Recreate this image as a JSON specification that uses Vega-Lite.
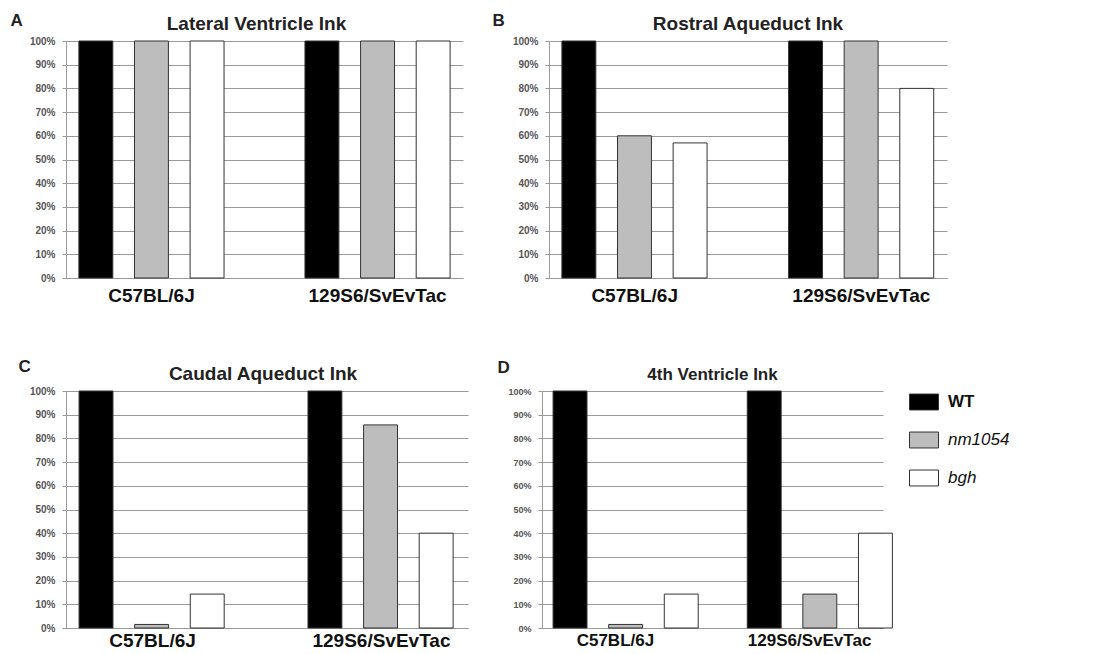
{
  "$schema": "https://vega.github.io/schema/vega-lite/v6.json",
  "background": "white",
  "padding": {"left": 10, "top": 11, "right": 0, "bottom": 0},
  "spacing": 52,
  "datasets": {
    "ink": [
      {"panel": "A", "strain": "C57BL/6J", "genotype": "WT", "pct": 100},
      {"panel": "A", "strain": "C57BL/6J", "genotype": "nm1054", "pct": 100},
      {"panel": "A", "strain": "C57BL/6J", "genotype": "bgh", "pct": 100},
      {"panel": "A", "strain": "129S6/SvEvTac", "genotype": "WT", "pct": 100},
      {"panel": "A", "strain": "129S6/SvEvTac", "genotype": "nm1054", "pct": 100},
      {"panel": "A", "strain": "129S6/SvEvTac", "genotype": "bgh", "pct": 100},
      {"panel": "B", "strain": "C57BL/6J", "genotype": "WT", "pct": 100},
      {"panel": "B", "strain": "C57BL/6J", "genotype": "nm1054", "pct": 60},
      {"panel": "B", "strain": "C57BL/6J", "genotype": "bgh", "pct": 57},
      {"panel": "B", "strain": "129S6/SvEvTac", "genotype": "WT", "pct": 100},
      {"panel": "B", "strain": "129S6/SvEvTac", "genotype": "nm1054", "pct": 100},
      {"panel": "B", "strain": "129S6/SvEvTac", "genotype": "bgh", "pct": 80},
      {"panel": "C", "strain": "C57BL/6J", "genotype": "WT", "pct": 100},
      {"panel": "C", "strain": "C57BL/6J", "genotype": "nm1054", "pct": 1.5},
      {"panel": "C", "strain": "C57BL/6J", "genotype": "bgh", "pct": 14.3},
      {"panel": "C", "strain": "129S6/SvEvTac", "genotype": "WT", "pct": 100},
      {"panel": "C", "strain": "129S6/SvEvTac", "genotype": "nm1054", "pct": 85.7},
      {"panel": "C", "strain": "129S6/SvEvTac", "genotype": "bgh", "pct": 40},
      {"panel": "D", "strain": "C57BL/6J", "genotype": "WT", "pct": 100},
      {"panel": "D", "strain": "C57BL/6J", "genotype": "nm1054", "pct": 1.5},
      {"panel": "D", "strain": "C57BL/6J", "genotype": "bgh", "pct": 14.3},
      {"panel": "D", "strain": "129S6/SvEvTac", "genotype": "WT", "pct": 100},
      {"panel": "D", "strain": "129S6/SvEvTac", "genotype": "nm1054", "pct": 14.3},
      {"panel": "D", "strain": "129S6/SvEvTac", "genotype": "bgh", "pct": 40}
    ]
  },
  "resolve": {"scale": {"fill": "independent"}, "legend": {"fill": "independent"}},
  "vconcat": [
    {
      "bounds": "flush",
      "spacing": 86,
      "resolve": {"scale": {"fill": "independent"}, "legend": {"fill": "independent"}},
      "hconcat": [
        {
          "width": 397, "height": 237,
          "data": {"name": "ink"},
          "transform": [{"filter": "datum.panel === 'A'"}],
          "title": {"text": "Lateral Ventricle Ink", "dx": -8, "offset": -23},
          "mark": {"type": "bar", "stroke": "#333333", "strokeWidth": 1},
          "encoding": {
            "x": {"field": "strain", "type": "nominal", "sort": ["C57BL/6J", "129S6/SvEvTac"], "scale": {"paddingInner": 0.358, "paddingOuter": 0.057}, "axis": {"title": null, "labelPadding": 8}},
            "xOffset": {"field": "genotype", "type": "nominal", "sort": ["WT", "nm1054", "bgh"], "scale": {"paddingInner": 0.39, "paddingOuter": 0}},
            "y": {"field": "pct", "type": "quantitative", "scale": {"domain": [0, 100]}, "axis": {"title": "A", "titleX": -56, "titleY": -16, "values": [0, 10, 20, 30, 40, 50, 60, 70, 80, 90, 100]}},
            "fill": {"field": "genotype", "type": "nominal", "scale": {"domain": ["WT", "nm1054", "bgh"], "range": ["#000000", "#bdbdbd", "#ffffff"]}, "legend": null}
          }
        },
        {
          "width": 398, "height": 237,
          "data": {"name": "ink"},
          "transform": [{"filter": "datum.panel === 'B'"}],
          "title": {"text": "Rostral Aqueduct Ink", "offset": -23},
          "mark": {"type": "bar", "stroke": "#333333", "strokeWidth": 1},
          "encoding": {
            "x": {"field": "strain", "type": "nominal", "sort": ["C57BL/6J", "129S6/SvEvTac"], "scale": {"paddingInner": 0.358, "paddingOuter": 0.057}, "axis": {"title": null, "labelPadding": 8}},
            "xOffset": {"field": "genotype", "type": "nominal", "sort": ["WT", "nm1054", "bgh"], "scale": {"paddingInner": 0.39, "paddingOuter": 0}},
            "y": {"field": "pct", "type": "quantitative", "scale": {"domain": [0, 100]}, "axis": {"title": "B", "titleX": -57, "titleY": -16, "values": [0, 10, 20, 30, 40, 50, 60, 70, 80, 90, 100]}},
            "fill": {"field": "genotype", "type": "nominal", "scale": {"domain": ["WT", "nm1054", "bgh"], "range": ["#000000", "#bdbdbd", "#ffffff"]}, "legend": null}
          }
        }
      ]
    },
    {
      "bounds": "flush",
      "spacing": 74,
      "resolve": {"scale": {"fill": "independent"}, "legend": {"fill": "independent"}},
      "hconcat": [
        {
          "width": 402, "height": 237,
          "data": {"name": "ink"},
          "transform": [{"filter": "datum.panel === 'C'"}],
          "title": {"text": "Caudal Aqueduct Ink", "dx": -4, "offset": -27},
          "mark": {"type": "bar", "stroke": "#333333", "strokeWidth": 1},
          "encoding": {
            "x": {"field": "strain", "type": "nominal", "sort": ["C57BL/6J", "129S6/SvEvTac"], "scale": {"paddingInner": 0.358, "paddingOuter": 0.057}, "axis": {"title": null, "labelPadding": 3}},
            "xOffset": {"field": "genotype", "type": "nominal", "sort": ["WT", "nm1054", "bgh"], "scale": {"paddingInner": 0.39, "paddingOuter": 0}},
            "y": {"field": "pct", "type": "quantitative", "scale": {"domain": [0, 100]}, "axis": {"title": "C", "titleX": -48, "titleY": -20, "values": [0, 10, 20, 30, 40, 50, 60, 70, 80, 90, 100]}},
            "fill": {"field": "genotype", "type": "nominal", "scale": {"domain": ["WT", "nm1054", "bgh"], "range": ["#000000", "#bdbdbd", "#ffffff"]}, "legend": null}
          }
        },
        {
          "width": 341, "height": 237,
          "data": {"name": "ink"},
          "transform": [{"filter": "datum.panel === 'D'"}],
          "title": {"text": "4th Ventricle Ink", "offset": -26, "fontSize": 17},
          "mark": {"type": "bar", "stroke": "#333333", "strokeWidth": 1},
          "encoding": {
            "x": {"field": "strain", "type": "nominal", "sort": ["C57BL/6J", "129S6/SvEvTac"], "scale": {"paddingInner": 0.358, "paddingOuter": 0.057}, "axis": {"title": null, "labelPadding": 4, "labelFontSize": 17}},
            "xOffset": {"field": "genotype", "type": "nominal", "sort": ["WT", "nm1054", "bgh"], "scale": {"paddingInner": 0.39, "paddingOuter": 0}},
            "y": {"field": "pct", "type": "quantitative", "scale": {"domain": [0, 100]}, "axis": {"title": "D", "titleX": -45, "titleY": -19, "labelFontSize": 9, "values": [0, 10, 20, 30, 40, 50, 60, 70, 80, 90, 100]}},
            "fill": {
              "field": "genotype", "type": "nominal",
              "scale": {"domain": ["WT", "nm1054", "bgh"], "range": ["#000000", "#bdbdbd", "#ffffff"]},
              "legend": {
                "title": null,
                "orient": "none",
                "legendX": 367,
                "legendY": -4,
                "padding": 0,
                "symbolType": "M-1,-0.55H1V0.55H-1Z",
                "symbolSize": 841,
                "symbolStrokeColor": "#333333",
                "symbolStrokeWidth": 1,
                "labelFont": "Liberation Sans",
                "labelFontSize": 17,
                "labelColor": "#111111",
                "labelOffset": 9,
                "rowPadding": 13,
                "encode": {
                  "labels": {"update": {"fontStyle": {"signal": "datum.value === 'WT' ? 'normal' : 'italic'"}, "fontWeight": {"signal": "datum.value === 'WT' ? 'bold' : 'normal'"}}}
                }
              }
            }
          }
        }
      ]
    }
  ],
  "config": {
    "view": {"stroke": null},
    "font": "Liberation Sans",
    "title": {"fontSize": 19, "fontWeight": "bold", "color": "#222222", "anchor": "middle"},
    "axisY": {
      "grid": true, "gridColor": "#999999", "gridWidth": 1,
      "domainColor": "#999999", "tickColor": "#999999", "tickSize": 4,
      "labelExpr": "datum.value + '%'",
      "labelFontSize": 10, "labelFontWeight": "bold", "labelColor": "#555555", "labelPadding": 7,
      "titleAngle": 0, "titleAlign": "left", "titleBaseline": "alphabetic",
      "titleFontSize": 17, "titleFontWeight": "bold", "titleColor": "#222222"
    },
    "axisX": {
      "ticks": false, "domainColor": "#999999", "labelAngle": 0,
      "labelFontSize": 19, "labelFontWeight": "bold", "labelColor": "#111111"
    }
  }
}
